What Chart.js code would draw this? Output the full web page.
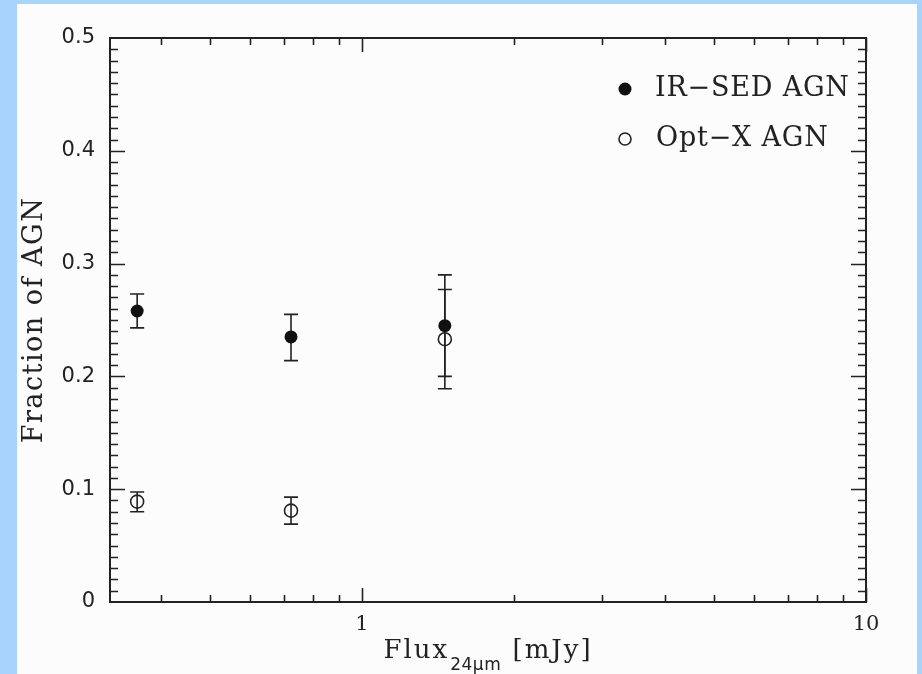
<!DOCTYPE html>
<html><head><meta charset="utf-8">
<script src="https://cdn.jsdelivr.net/npm/chart.js@4"></script>
<style>
html,body{margin:0;padding:0;background:#a8d4fc;width:922px;height:674px;overflow:hidden}
#wrap{position:absolute;left:17px;top:4px;width:900px;height:670px;background:#fcfcfc}
canvas{display:block}
</style></head><body>
<div id="wrap"><canvas id="c" width="900" height="670"></canvas></div>
<script>
// ---- data ----
const fluxBins = [0.358, 0.723, 1.46];
const irSedFraction = [0.258, 0.235, 0.245];
const irSedLow = [0.243, 0.214, 0.200];
const irSedHigh = [0.273, 0.255, 0.290];
const optXFraction = [0.089, 0.081, 0.233];
const optXLow = [0.080, 0.069, 0.189];
const optXHigh = [0.0975, 0.093, 0.277];
const xTickValues = [1, 10];
const xMinorTicks = [0.4, 0.5, 0.6, 0.7, 0.8, 0.9, 2, 3, 4, 5, 6, 7, 8, 9];
const yTickValues = [0, 0.1, 0.2, 0.3, 0.4, 0.5];
const legendLabels = ['IR\u2212SED AGN', 'Opt\u2212X AGN'];
const yTitle = 'Fraction of AGN';
const xTitleMain = 'Flux', xTitleSub = '24\u03bcm', xTitleUnit = ' [mJy]';
const xMin = Math.pow(10, -0.5), xMax = 10;

const INK = '#222';
const SERIF = '"DejaVu Serif", serif';

const errorBars = {
  id: 'errorBars',
  beforeDatasetsDraw(chart) {
    const {ctx, scales: {x, y}} = chart;
    const sets = [[irSedLow, irSedHigh], [optXLow, optXHigh]];
    ctx.save();
    ctx.strokeStyle = INK; ctx.lineWidth = 1.6;
    sets.forEach(([lo, hi]) => {
      fluxBins.forEach((f, i) => {
        const px = x.getPixelForValue(f);
        const p1 = y.getPixelForValue(lo[i]), p2 = y.getPixelForValue(hi[i]);
        ctx.beginPath();
        ctx.moveTo(px, p1); ctx.lineTo(px, p2);
        ctx.moveTo(px - 7, p1); ctx.lineTo(px + 7, p1);
        ctx.moveTo(px - 7, p2); ctx.lineTo(px + 7, p2);
        ctx.stroke();
      });
    });
    ctx.restore();
  }
};

const frame = {
  id: 'frame',
  afterDraw(chart) {
    const {ctx, chartArea: a, scales: {x, y}} = chart;
    ctx.save();
    ctx.strokeStyle = INK; ctx.lineWidth = 1.6;
    ctx.beginPath();
    for (let k = 1; k < 50; k++) {
      const v = k / 100;
      const py = Math.round(y.getPixelForValue(v)) + 0.5;
      const len = (k % 10 === 0) ? 15 : 8;
      ctx.moveTo(a.left, py); ctx.lineTo(a.left + len, py);
      ctx.moveTo(a.right, py); ctx.lineTo(a.right - len, py);
    }
    xMinorTicks.forEach(v => {
      const px = Math.round(x.getPixelForValue(v)) + 0.5;
      ctx.moveTo(px, a.bottom); ctx.lineTo(px, a.bottom - 7);
      ctx.moveTo(px, a.top); ctx.lineTo(px, a.top + 7);
    });
    xTickValues.forEach(v => {
      const px = Math.round(x.getPixelForValue(v)) + 0.5;
      ctx.moveTo(px, a.bottom); ctx.lineTo(px, a.bottom - 14);
      ctx.moveTo(px, a.top); ctx.lineTo(px, a.top + 14);
    });
    ctx.stroke();
    ctx.lineWidth = 2;
    ctx.strokeRect(a.left, a.top, a.right - a.left, a.bottom - a.top);
    ctx.restore();

    // y title
    ctx.save();
    ctx.fillStyle = '#222';
    ctx.font = '27px ' + SERIF;
    if ('letterSpacing' in ctx) ctx.letterSpacing = '1.5px';
    ctx.textAlign = 'center'; ctx.textBaseline = 'middle';
    ctx.translate(18, (a.top + a.bottom) / 2);
    ctx.rotate(-Math.PI / 2);
    ctx.fillText(yTitle, 0, 0);
    ctx.restore();

    // x title with subscript
    ctx.save();
    ctx.fillStyle = '#222';
    ctx.textBaseline = 'alphabetic'; ctx.textAlign = 'left';
    const mainFont = '26px ' + SERIF, subFont = '17px "DejaVu Sans", sans-serif';
    if ('letterSpacing' in ctx) ctx.letterSpacing = '2px';
    ctx.font = mainFont;
    const w1 = ctx.measureText(xTitleMain).width;
    const w3 = ctx.measureText(xTitleUnit).width;
    if ('letterSpacing' in ctx) ctx.letterSpacing = '0.5px';
    ctx.font = subFont; const w2 = ctx.measureText(xTitleSub).width;
    const total = w1 + w2 + w3 + 2;
    const sx = (a.left + a.right) / 2 - total / 2;
    const base = 654;
    if ('letterSpacing' in ctx) ctx.letterSpacing = '2px';
    ctx.font = mainFont; ctx.fillText(xTitleMain, sx, base);
    ctx.font = mainFont; ctx.fillText(xTitleUnit, sx + w1 + w2 + 2, base);
    if ('letterSpacing' in ctx) ctx.letterSpacing = '0.5px';
    ctx.font = subFont; ctx.fillText(xTitleSub, sx + w1 + 1, base + 12);
    ctx.restore();

    // legend
    ctx.save();
    ctx.fillStyle = '#111'; ctx.strokeStyle = INK; ctx.lineWidth = 1.6;
    ctx.beginPath(); ctx.arc(608, 85, 6.5, 0, 2 * Math.PI); ctx.fill();
    ctx.beginPath(); ctx.arc(608, 135, 6, 0, 2 * Math.PI); ctx.stroke();
    ctx.font = '27px ' + SERIF;
    if ('letterSpacing' in ctx) ctx.letterSpacing = '0.8px';
    ctx.textAlign = 'left'; ctx.textBaseline = 'middle';
    ctx.fillStyle = '#222';
    ctx.fillText(legendLabels[0], 638, 85);
    ctx.fillText(legendLabels[1], 639, 135);
    ctx.restore();
  }
};

new Chart(document.getElementById('c'), {
  type: 'scatter',
  data: {
    datasets: [
      { label: legendLabels[0], data: fluxBins.map((f, i) => ({x: f, y: irSedFraction[i]})),
        pointRadius: 6.5, pointHoverRadius: 6.5, backgroundColor: '#111', borderColor: '#111', borderWidth: 0 },
      { label: legendLabels[1], data: fluxBins.map((f, i) => ({x: f, y: optXFraction[i]})),
        pointRadius: 6.5, pointHoverRadius: 6.5, backgroundColor: 'rgba(0,0,0,0)', borderColor: INK, borderWidth: 1.6 }
    ]
  },
  options: {
    responsive: false, animation: false, devicePixelRatio: 1,
    layout: { padding: { left: 0, top: 34, right: 51, bottom: 0 } },
    plugins: { legend: { display: false }, tooltip: { enabled: false } },
    scales: {
      x: {
        type: 'logarithmic', min: xMin, max: xMax, bounds: 'data',
        grid: { display: false, drawTicks: false }, border: { display: false },
        afterBuildTicks: s => { s.ticks = xTickValues.map(v => ({value: v})); s.min = xMin; s.max = xMax; },
        afterFit: s => { s.height = 72; },
        ticks: { padding: 10, color: '#222', font: { family: '"DejaVu Serif", serif', size: 21 },
          maxRotation: 0, autoSkip: false, callback: v => String(v) }
      },
      y: {
        min: 0, max: 0.5,
        grid: { display: false, drawTicks: false }, border: { display: false },
        afterBuildTicks: s => { s.ticks = yTickValues.map(v => ({value: v})); },
        afterFit: s => { s.width = 93; },
        ticks: { padding: 15, color: '#222', font: { family: '"DejaVu Sans", sans-serif', size: 21 },
          callback: v => v === 0 ? '0' : Number(v).toFixed(1) }
      }
    }
  },
  plugins: [errorBars, frame]
});
</script>
</body></html>
